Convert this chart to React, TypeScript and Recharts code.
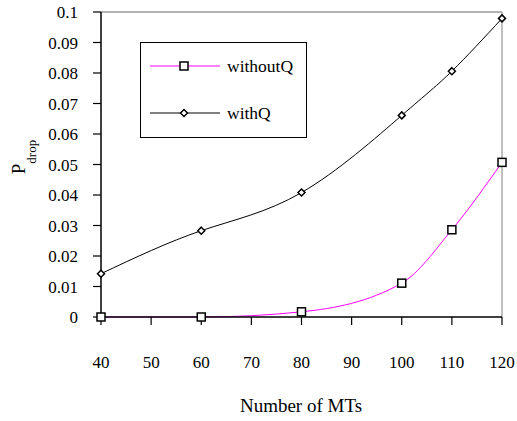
import React from 'react';
import { LineChart, Line, XAxis, YAxis, Legend, ReferenceLine } from 'recharts';

// Number of MTs on the x axis
const mts = [40, 60, 80, 100, 110, 120];
// drop probability
const withoutQ = [0, 0, 0.0017, 0.0111, 0.0286, 0.0507];
const withQ = [0.0142, 0.0283, 0.0408, 0.0661, 0.0806, 0.0979];

const xTicks = [40, 50, 60, 70, 80, 90, 100, 110, 120];
const yTicks = [0, 0.01, 0.02, 0.03, 0.04, 0.05, 0.06, 0.07, 0.08, 0.09, 0.1];

const chartData = mts.map((m, i) => ({ mts: m, withoutQ: withoutQ[i], withQ: withQ[i] }));

const FONT = 'Liberation Serif';

// tick labels drawn by hand so the serif font sticks
const XTick = (props: any) => {
  const { x, y, payload } = props;
  return (
    <text x={x} y={y + 41} textAnchor="middle" fontFamily={FONT} fontSize={17} fill="#000">
      {payload.value}
    </text>
  );
};

const YTick = (props: any) => {
  const { x, y, payload } = props;
  return (
    <text x={x - 13} y={y + 6} textAnchor="end" fontFamily={FONT} fontSize={17} fill="#000">
      {String(payload.value)}
    </text>
  );
};

const SquareDot = (props: any) => {
  const { cx, cy, index } = props;
  if (cx == null || cy == null) return null;
  return <rect key={`sq-${index}`} x={cx - 4} y={cy - 4} width={8} height={8} fill="#fff" stroke="#000" strokeWidth={1.5} />;
};

const DiamondDot = (props: any) => {
  const { cx, cy, index } = props;
  if (cx == null || cy == null) return null;
  return (
    <path
      key={`dm-${index}`}
      d={`M${cx},${cy - 3.5} L${cx + 3.5},${cy} L${cx},${cy + 3.5} L${cx - 3.5},${cy} Z`}
      fill="#fff"
      stroke="#000"
      strokeWidth={1.5}
    />
  );
};

// Rotated P_drop label
const YLabel = () => (
  <text transform="translate(25,157) rotate(-90)" textAnchor="middle" fontFamily={FONT} fill="#000">
    <tspan fontSize={19}>P</tspan>
    <tspan fontSize={13} dy={11}>drop</tspan>
  </text>
);

const XLabel = () => (
  <text x={301} y={412} textAnchor="middle" fontFamily={FONT} fontSize={19} fill="#000">
    Number of MTs
  </text>
);

const LEGEND_ROWS = [
  { name: 'withoutQ', color: '#ff00ff', marker: 'square' },
  { name: 'withQ', color: '#000', marker: 'diamond' },
];

const renderLegend = () => (
  <svg width={167} height={96} style={{ display: 'block' }}>
    <rect x={0.5} y={0.5} width={166} height={95} fill="#fff" stroke="#000" strokeWidth={1} />
    {LEGEND_ROWS.map((row, i) => {
      const cy = 24 + i * 47;
      return (
        <g key={row.name}>
          <line x1={10} y1={cy} x2={80} y2={cy} stroke={row.color} strokeWidth={1} />
          {row.marker === 'square' ? (
            <rect x={40} y={cy - 4} width={8} height={8} fill="#fff" stroke="#000" strokeWidth={1.5} />
          ) : (
            <path d={`M44,${cy - 3.5} L47.5,${cy} L44,${cy + 3.5} L40.5,${cy} Z`} fill="#fff" stroke="#000" strokeWidth={1.5} />
          )}
          <text x={87} y={cy + 6} fontFamily={FONT} fontSize={17.5} fill="#000">
            {row.name}
          </text>
        </g>
      );
    })}
  </svg>
);

export default function App() {
  return (
    <div style={{ position: 'absolute', left: 0, top: 0, width: 517, height: 421, background: '#fff' }}>
      <LineChart width={517} height={421} data={chartData} margin={{ top: 12, right: 15, left: 0, bottom: 0 }}>
        <XAxis
          dataKey="mts"
          type="number"
          domain={[40, 120]}
          ticks={xTicks}
          interval={0}
          height={104}
          tick={<XTick />}
          tickSize={8}
          axisLine={{ stroke: '#000', strokeWidth: 1.5 }}
          tickLine={{ stroke: '#000', strokeWidth: 1.2 }}
          label={<XLabel />}
        />
        <YAxis
          type="number"
          domain={[0, 0.1]}
          ticks={yTicks}
          interval={0}
          width={101}
          tick={<YTick />}
          tickSize={8}
          axisLine={{ stroke: '#000', strokeWidth: 1.5 }}
          tickLine={{ stroke: '#000', strokeWidth: 1.2 }}
          label={<YLabel />}
        />
        <ReferenceLine y={0.1} stroke="#999" strokeWidth={1.5} />
        <ReferenceLine x={120} stroke="#aaa" strokeWidth={1.5} />
        <Legend
          layout="vertical"
          align="center"
          verticalAlign="middle"
          content={renderLegend}
          wrapperStyle={{ left: 140, top: 42, width: 167, height: 96 }}
        />
        <Line
          type="monotone"
          dataKey="withoutQ"
          stroke="#ff00ff"
          strokeWidth={1}
          dot={<SquareDot />}
          isAnimationActive={false}
        />
        <Line
          type="natural"
          dataKey="withQ"
          stroke="#000"
          strokeWidth={1}
          dot={<DiamondDot />}
          isAnimationActive={false}
        />
      </LineChart>
    </div>
  );
}
